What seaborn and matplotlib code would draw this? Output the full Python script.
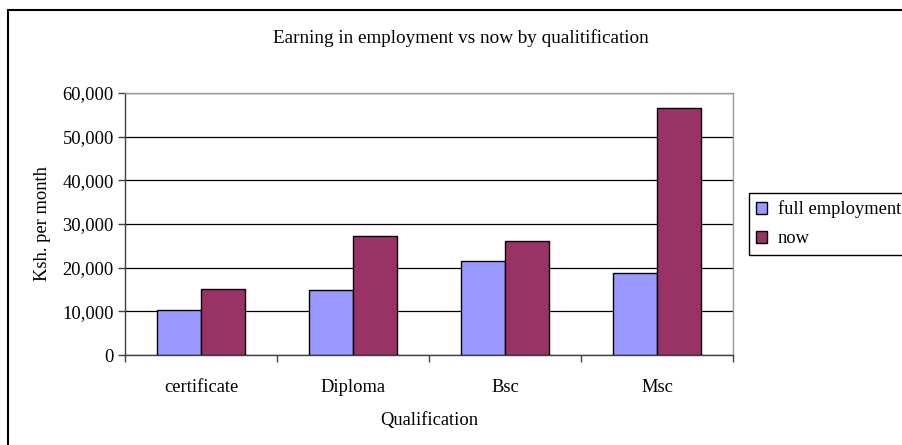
import matplotlib
matplotlib.use("Agg")
import matplotlib.pyplot as plt
import matplotlib.patches as mpatches
from matplotlib.ticker import FuncFormatter, FixedLocator
import seaborn as sns
import pandas as pd

categories = ["certificate", "Diploma", "Bsc", "Msc"]
full_employment = [10400, 14800, 21500, 18800]
now = [15100, 27300, 26200, 56600]
series_names = ["full employment", "now"]
colors = ["#9999FF", "#993366"]

df = pd.DataFrame({
    "Qualification": categories * 2,
    "value": full_employment + now,
    "series": [series_names[0]] * 4 + [series_names[1]] * 4,
})

FS = 13.3

sns.set_style("white")
plt.rcParams["font.family"] = ["Liberation Serif", "DejaVu Serif"]
plt.rcParams["font.size"] = FS
plt.rcParams["text.color"] = "black"
plt.rcParams["axes.labelcolor"] = "black"
plt.rcParams["xtick.color"] = "black"
plt.rcParams["ytick.color"] = "black"

fig = plt.figure(figsize=(9.02, 4.45), dpi=100)
ax = fig.add_axes([125 / 902, 1 - 355 / 445, (733 - 125) / 902, (355 - 93) / 445])

sns.barplot(data=df, x="Qualification", y="value", hue="series",
            palette=colors, width=0.58, edgecolor="black", linewidth=1,
            saturation=1, ax=ax, legend=False)

ax.set_xlim(-0.5, 3.5)
ax.set_ylim(0, 60000)
ax.set_yticks(range(0, 60001, 10000))
ax.yaxis.set_major_formatter(FuncFormatter(lambda v, p: f"{int(v):,}"))
ax.set_axisbelow(True)
ax.yaxis.grid(True, color="black", linewidth=0.9)
ax.xaxis.grid(False)

ax.tick_params(axis="y", which="major", direction="out", length=5, width=1,
               color="#404040", labelcolor="black", pad=3, labelsize=FS, left=True)
ax.tick_params(axis="x", which="major", length=0, pad=17, labelsize=FS,
               labelcolor="black")
ax.xaxis.set_minor_locator(FixedLocator([-0.5, 0.5, 1.5, 2.5, 3.5]))
ax.tick_params(axis="x", which="minor", direction="out", length=5, width=1,
               color="#404040", bottom=True)

for s in ["left", "bottom"]:
    ax.spines[s].set_color("#404040")
    ax.spines[s].set_linewidth(1)
for s in ["top", "right"]:
    ax.spines[s].set_color("#999999")
    ax.spines[s].set_linewidth(1)
    ax.spines[s].set_visible(True)

ax.set_xlabel("Qualification", fontsize=FS, labelpad=12, color="black")
ax.set_ylabel("Ksh. per month", fontsize=FS, labelpad=8, color="black")

fig.text(461 / 902, 1 - 38 / 445, "Earning in employment vs now by qualitification",
         ha="center", va="center", fontsize=13.8, color="black")

handles = [mpatches.Patch(facecolor=c, edgecolor="black", linewidth=1, label=n)
           for c, n in zip(colors, series_names)]
leg = fig.legend(handles=handles, loc="upper left",
                 bbox_to_anchor=(749 / 902, 1 - 193 / 445),
                 frameon=True, fancybox=False, framealpha=1,
                 handlelength=0.6, handleheight=0.6, handletextpad=0.55,
                 borderpad=0.4, labelspacing=0.65, fontsize=FS, borderaxespad=0)
leg.get_frame().set_edgecolor("black")
leg.get_frame().set_linewidth(1)

border = mpatches.Rectangle((8 / 902, -0.1), 1.2, 1 - 10 / 445 + 0.1,
                            transform=fig.transFigure, fill=False,
                            edgecolor="black", linewidth=1.5, clip_on=False)
fig.patches.append(border)

fig.savefig("out.png", dpi=100)
